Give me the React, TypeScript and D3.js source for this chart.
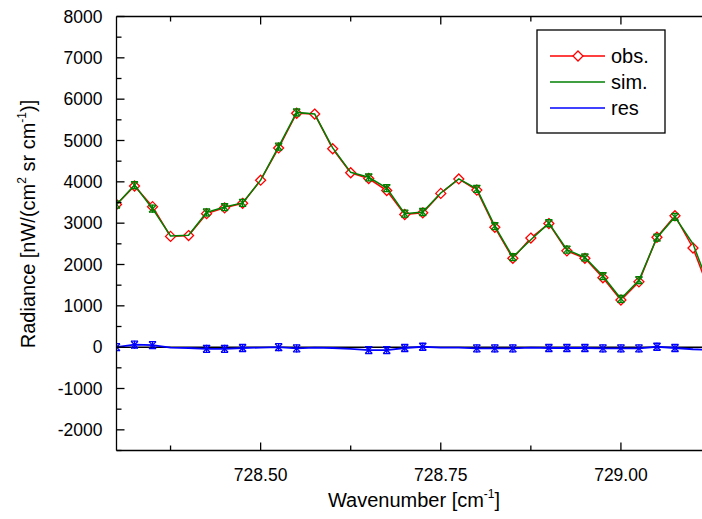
import React from "react";
import * as d3 from "d3";

const wavenumbers: number[] = Array.from({ length: 35 }, (_, i) => +(728.3 + 0.025 * i).toFixed(3));
const obs: number[] = [3450, 3900, 3400, 2680, 2700, 3230, 3370, 3480, 4040, 4820, 5660, 5640, 4800, 4220, 4080, 3790, 3210, 3250, 3720, 4070, 3800, 2900, 2150, 2640, 2990, 2330, 2150, 1680, 1140, 1580, 2660, 3180, 2400, 1250, 1100];
const sim: number[] = [3450, 3920, 3350, 2690, 2710, 3260, 3390, 3490, 4040, 4850, 5680, 5640, 4820, 4230, 4110, 3850, 3230, 3270, 3730, 4070, 3830, 2930, 2180, 2600, 3000, 2360, 2170, 1720, 1170, 1620, 2650, 3150, 2500, 1350, 1150];
const res: number[] = [0, 60, 50, -10, -20, -40, -40, -20, -10, 0, -30, -10, -20, -40, -70, -70, -20, 10, -10, -10, -30, -30, -30, -10, -20, -20, -20, -30, -30, -30, 10, -20, -50, -70, -70];
const markedIdx: number[] = [0, 1, 2, 5, 6, 7, 9, 10, 14, 15, 16, 17, 20, 21, 22, 24, 25, 26, 27, 28, 29, 30, 31];
const xMajorTicks: number[] = [728.5, 728.75, 729.0];
const xMinorTicks: number[] = [728.375, 728.625, 728.875, 729.125];
const yMajorTicks: number[] = [-2000, -1000, 0, 1000, 2000, 3000, 4000, 5000, 6000, 7000, 8000];
const yMinorTicks: number[] = [-2500, -1500, -500, 500, 1500, 2500, 3500, 4500, 5500, 6500, 7500];
const legendItems = [
  { label: "obs.", color: "#ff0000", marker: true },
  { label: "sim.", color: "#007f00", marker: false },
  { label: "res", color: "#0000ff", marker: false },
];

const L = 116.5, R = 711, T = 16.5, B = 450.5;
const FONT = "Liberation Sans, Arial, sans-serif";

function Asterisk({ x, y, color, s = 3.5 }: { x: number; y: number; color: string; s?: number }) {
  return (
    <g stroke={color} strokeWidth={1.3}>
      <line x1={x - s} y1={y - s} x2={x + s} y2={y + s} />
      <line x1={x - s} y1={y + s} x2={x + s} y2={y - s} />
      <line x1={x} y1={y - s - 0.5} x2={x} y2={y + s + 0.5} />
      <line x1={x - s} y1={y - s} x2={x + s} y2={y - s} />
      <line x1={x - s} y1={y + s} x2={x + s} y2={y + s} />
    </g>
  );
}

function Diamond({ x, y, color, s = 5 }: { x: number; y: number; color: string; s?: number }) {
  return (
    <path d={`M${x},${y - s}L${x + s},${y}L${x},${y + s}L${x - s},${y}Z`} fill="white" stroke={color} strokeWidth={1.3} />
  );
}

export default function App() {
  const x = d3.scaleLinear().domain([728.3, 729.125]).range([L, R]);
  const y = d3.scaleLinear().domain([-2500, 8000]).range([B, T]);
  const line = (vals: number[]) =>
    d3.line<number>().x((_, i) => x(wavenumbers[i])).y((v) => y(v))(vals) || "";

  return (
    <svg width={702} height={519} style={{ position: "absolute", left: 0, top: 0, background: "white" }}>
      <defs>
        <clipPath id="plot">
          <rect x={L} y={T} width={R - L} height={B - T} />
        </clipPath>
      </defs>
      <rect x={0} y={0} width={702} height={519} fill="white" />
      <g clipPath="url(#plot)">
        <line x1={L} x2={R} y1={y(0)} y2={y(0)} stroke="#000" strokeWidth={1.5} />
        <path d={line(res)} fill="none" stroke="#0000ff" strokeWidth={1.8} />
        {markedIdx.map((i) => (
          <Asterisk key={"r" + i} x={x(wavenumbers[i])} y={y(res[i])} color="#0000ff" />
        ))}
        <path d={line(obs)} fill="none" stroke="#ff0000" strokeWidth={1.5} />
        {obs.map((v, i) => (
          <Diamond key={"o" + i} x={x(wavenumbers[i])} y={y(v)} color="#ff0000" />
        ))}
        <path d={line(sim)} fill="none" stroke="#007f00" strokeWidth={1.5} />
        {markedIdx.map((i) => (
          <Asterisk key={"s" + i} x={x(wavenumbers[i])} y={y(sim[i])} color="#007f00" />
        ))}
      </g>
      {/* frame */}
      <g stroke="#000" strokeWidth={1.3} fill="none">
        <line x1={L} x2={L} y1={T} y2={B} />
        <line x1={L} x2={R} y1={B} y2={B} />
        <line x1={L} x2={R} y1={T} y2={T} />
        <line x1={R} x2={R} y1={T} y2={B} />
        {xMajorTicks.map((t) => (
          <g key={"xm" + t}>
            <line x1={x(t)} x2={x(t)} y1={B} y2={B - 8} />
            <line x1={x(t)} x2={x(t)} y1={T} y2={T + 8} />
          </g>
        ))}
        {xMinorTicks.map((t) => (
          <g key={"xn" + t}>
            <line x1={x(t)} x2={x(t)} y1={B} y2={B - 5} />
            <line x1={x(t)} x2={x(t)} y1={T} y2={T + 5} />
          </g>
        ))}
        {yMajorTicks.map((t) => (
          <line key={"ym" + t} x1={L} x2={L + 8} y1={y(t)} y2={y(t)} />
        ))}
        {yMinorTicks.map((t) => (
          <line key={"yn" + t} x1={L} x2={L + 5} y1={y(t)} y2={y(t)} />
        ))}
      </g>
      <g fontFamily={FONT} fontSize={17.5} fill="#000">
        {xMajorTicks.map((t) => (
          <text key={"xl" + t} x={x(t)} y={B + 30} textAnchor="middle">
            {d3.format(".2f")(t)}
          </text>
        ))}
        {yMajorTicks.map((t) => (
          <text key={"yl" + t} x={L - 14} y={y(t) + 6} textAnchor="end">
            {t}
          </text>
        ))}
      </g>
      <text x={414} y={507} fontFamily={FONT} fontSize={20} textAnchor="middle">
        Wavenumber [cm
        <tspan fontSize={12} dy={-9}>-1</tspan>
        <tspan dy={9}>]</tspan>
      </text>
      <text transform={`translate(35,224) rotate(-90)`} fontFamily={FONT} fontSize={20} textAnchor="middle">
        Radiance [nW/(cm
        <tspan fontSize={12} dy={-9}>2</tspan>
        <tspan dy={9}> sr cm</tspan>
        <tspan fontSize={12} dy={-9}>-1</tspan>
        <tspan dy={9}>)]</tspan>
      </text>
      {/* legend */}
      <rect x={537} y={30} width={128} height={103} fill="white" stroke="#000" strokeWidth={1.3} />
      {legendItems.map((d, i) => {
        const ly = 56 + i * 26;
        return (
          <g key={d.label}>
            <line x1={550} x2={605} y1={ly} y2={ly} stroke={d.color} strokeWidth={1.5} />
            {d.marker && <Diamond x={578} y={ly} color={d.color} />}
            <text x={611} y={ly + 7} fontFamily={FONT} fontSize={20}>
              {d.label}
            </text>
          </g>
        );
      })}
    </svg>
  );
}
